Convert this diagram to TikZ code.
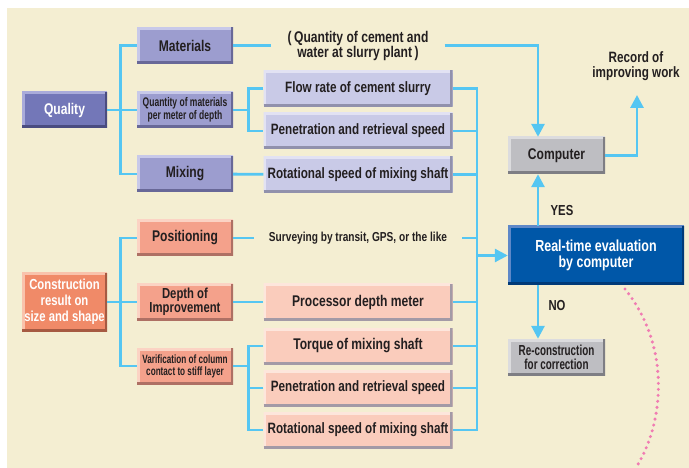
\documentclass[tikz,border=0pt]{standalone}
\usepackage{fontspec}
\setmainfont{Liberation Sans}[FakeStretch=0.78]
\newfontfamily\nf{Liberation Sans}[FakeStretch=0.68]
\usetikzlibrary{arrows.meta}
\definecolor{cream}{HTML}{F4EED2}
\definecolor{ln}{HTML}{55C6F2}
\definecolor{txt}{HTML}{231F20}
\definecolor{qA}{HTML}{7377B8}\definecolor{qL}{HTML}{A9ABDA}\definecolor{qD}{HTML}{4A4C80}
\definecolor{mA}{HTML}{9C9DCF}\definecolor{mL}{HTML}{C8C9E9}\definecolor{mD}{HTML}{686898}
\definecolor{lA}{HTML}{C9CAE7}\definecolor{lL}{HTML}{E2E2F3}\definecolor{lD}{HTML}{9191AC}
\definecolor{cA}{HTML}{F08A68}\definecolor{cL}{HTML}{F9C3AC}\definecolor{cD}{HTML}{A65A42}
\definecolor{pA}{HTML}{F4A18B}\definecolor{pL}{HTML}{FBD3C4}\definecolor{pD}{HTML}{AE7064}
\definecolor{sA}{HTML}{FACCBC}\definecolor{sL}{HTML}{FDE6DC}\definecolor{sD}{HTML}{A39AA6}
\definecolor{gA}{HTML}{BEBEC2}\definecolor{gL}{HTML}{DCDCDE}\definecolor{gD}{HTML}{7E7E84}
\definecolor{bA}{HTML}{0057A8}\definecolor{bL}{HTML}{5E88C8}\definecolor{bD}{HTML}{003A78}
\definecolor{pink}{HTML}{F07CB2}
\tikzset{
  bx/.style n args={3}{fill=#1, inner sep=0pt, align=center, text=txt,
    path picture={
      \draw[#2,line width=5pt] (path picture bounding box.south west) -- (path picture bounding box.north west) -- (path picture bounding box.north east);
      \draw[#3,line width=5pt] (path picture bounding box.south west) -- (path picture bounding box.south east) -- (path picture bounding box.north east);
    }},
  big/.style={font=\bfseries\fontsize{15}{16}\selectfont},
  qbox/.style={bx={qA}{qL}{qD}, text=white, big, minimum width=85pt, minimum height=36pt},
  mbox/.style={bx={mA}{mL}{mD}, big, minimum width=96pt, minimum height=36pt},
  lbox/.style={bx={lA}{lL}{lD}, big, minimum width=189pt, minimum height=36pt},
  cbox/.style={bx={cA}{cL}{cD}, text=white, minimum width=85pt, minimum height=58pt,
    font=\bfseries\fontsize{14.5}{16}\selectfont},
  pbox/.style={bx={pA}{pL}{pD}, big, minimum width=96pt, minimum height=36pt},
  sbox/.style={bx={sA}{sL}{sD}, big, minimum width=189pt, minimum height=36pt},
  gbox/.style={bx={gA}{gL}{gD}, big, minimum width=97pt, minimum height=37pt},
  bbox/.style={bx={bA}{bL}{bD}, text=white, minimum width=176pt, minimum height=59pt,
    font=\bfseries\fontsize{16}{16.5}\selectfont},
  conn/.style={ln, line width=2.8pt},
  arr/.style={conn, -{Triangle[width=13pt,length=13pt]}},
  lbl/.style={text=txt, inner sep=0pt, big, align=center},
}
\begin{document}
\begin{tikzpicture}[x=1pt,y=-1pt]
\useasboundingbox (0,0) rectangle (689,468);
\fill[white] (0,0) rectangle (689,468);
\fill[cream] (7,8) rectangle (689,468);

\coordinate (ax) at (538,0);
\coordinate (rb) at (477,0);
\coordinate (recarrow) at (637,95);

% upper group
\node[qbox, font=\bfseries\fontsize{15.5}{16}\selectfont] (quality) at (64.5,110) {Quality};
\node[mbox, font=\bfseries\fontsize{15.5}{16}\selectfont] (materials) at (185,45.5) {Materials};
\node[mbox, font=\nf\bfseries\fontsize{12.5}{13}\selectfont] (quantity) at (185,110) {Quantity of materials\\per meter of depth};
\node[mbox, font=\bfseries\fontsize{15.5}{16}\selectfont] (mixing) at (185,174) {Mixing};
\node[lbox] (flow) at (358,88.5) {Flow rate of cement slurry};
\node[lbox] (pen1) at (358,131) {Penetration and retrieval speed};
\node[lbox] (rot1) at (358,174.5) {Rotational speed of mixing shaft};
\node[lbl, font=\bfseries\fontsize{15.5}{15}\selectfont, inner xsep=16pt] (slurry) at (358,45.5) {(\,Quantity of cement and\\ water at slurry plant\,)};

% right column
\node[gbox, font=\bfseries\fontsize{15.5}{16}\selectfont] (computer) at (556.5,155.5) {Computer};
\node[lbl, font=\bfseries\fontsize{15}{15}\selectfont] (record) at (636,66) {Record of\\improving work};
\node[bbox] (realtime) at (596,255.5) {Real-time evaluation\\by computer};
\node[gbox, minimum height=36pt, font=\nf\bfseries\fontsize{14.5}{14}\selectfont] (recon) at (556.5,357) {Re-construction\\for correction};
\node[lbl, font=\bfseries\fontsize{14.5}{15}\selectfont] (yes) at (562,211) {YES};
\node[lbl, font=\bfseries\fontsize{14.5}{15}\selectfont] (no) at (557,306) {NO};

% lower group
\node[cbox] (constr) at (64.5,302) {Construction\\result on\\size and shape};
\node[pbox, font=\bfseries\fontsize{15.5}{16}\selectfont] (positioning) at (185,238) {Positioning};
\node[pbox, font=\bfseries\fontsize{14.5}{12.5}\selectfont] (depth) at (185,302) {Depth of\\Improvement};
\node[pbox, font=\nf\bfseries\fontsize{12}{12}\selectfont] (varif) at (185,366) {Varification of column\\contact to stiff layer};
\node[lbl, font=\bfseries\fontsize{13}{14}\selectfont, inner xsep=15pt] (survey) at (358,238) {Surveying by transit, GPS, or the like};
\node[sbox, font=\bfseries\fontsize{15.5}{16}\selectfont] (proc) at (358,302) {Processor depth meter};
\node[sbox, font=\bfseries\fontsize{15.5}{16}\selectfont] (torque) at (358,346) {Torque of mixing shaft};
\node[sbox] (pen2) at (358,388) {Penetration and retrieval speed};
\node[sbox] (rot2) at (358,430) {Rotational speed of mixing shaft};

% connectors upper
\draw[conn] (quality) -- (quantity);
\draw[conn] (materials.west) -- ++(-16,0) |- (mixing.west);
\draw[conn] (quantity.east) -- ++(16,0);
\draw[conn] (flow.west) -- ++(-15,0) |- (pen1.west);
\draw[conn] (mixing) -- (rot1);
\draw[conn] (materials.east) -- (slurry.west);
\draw[arr] (slurry.east) -| (ax |- computer.north);
\draw[arr] (computer.east) -| (recarrow);

% right bus
\draw[conn] (flow.east) -| (rb |- rot2.east) -- (rot2.east);
\draw[conn] (pen1.east) -- (pen1.east -| rb);
\draw[conn] (rot1.east) -- (rot1.east -| rb);
\draw[conn] (survey.east) -- (survey.east -| rb);
\draw[conn] (proc.east) -- (proc.east -| rb);
\draw[conn] (torque.east) -- (torque.east -| rb);
\draw[conn] (pen2.east) -- (pen2.east -| rb);
\draw[arr] (rb |- realtime.west) -- (realtime.west);

\draw[arr] (realtime.north -| ax) -- (computer.south -| ax);
\draw[arr] (realtime.south -| ax) -- (recon.north -| ax);

% connectors lower
\draw[conn] (constr) -- (depth);
\draw[conn] (positioning.west) -- ++(-16,0) |- (varif.west);
\draw[conn] (positioning.east) -- (survey.west);
\draw[conn] (depth) -- (proc);
\draw[conn] (varif.east) -- ++(16,0);
\draw[conn] (torque.west) -- ++(-14.5,0) |- (rot2.west);
\draw[conn] (pen2.west) -- ++(-14.5,0);

% pink dotted arc
\draw[pink, line width=3.4pt, line cap=round, dash pattern=on 0pt off 6pt]
  (625,289) .. controls (670,345) and (665,420) .. (637,466);
\end{tikzpicture}
\end{document}
